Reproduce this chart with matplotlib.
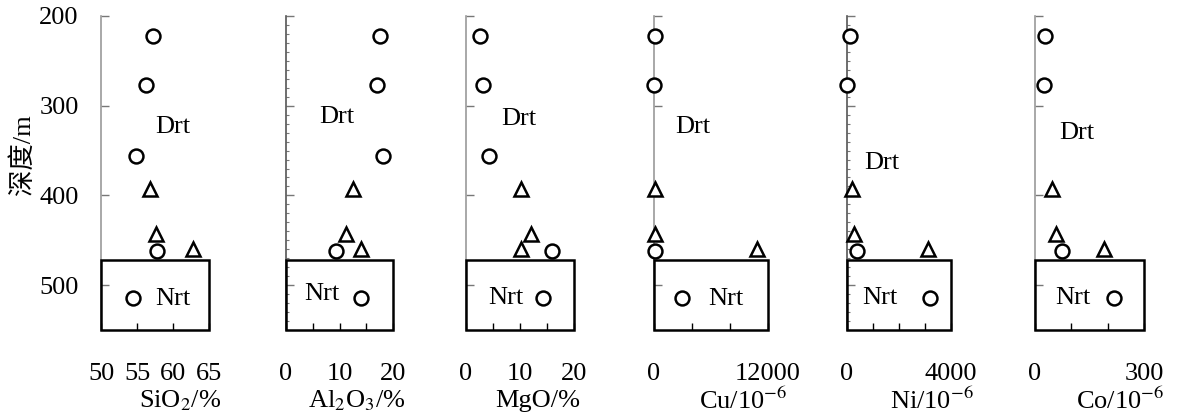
import matplotlib
matplotlib.use('Agg')
import matplotlib.pyplot as plt
import matplotlib.patches as patches
from matplotlib.ticker import MultipleLocator

plt.rcParams['font.family'] = ['Liberation Serif', 'Noto Sans CJK SC']
plt.rcParams['mathtext.fontset'] = 'stix'

# depths (m) shared by all panels
circle_depth = [222, 277, 356, 462, 514]
triangle_depth = [393, 443, 460]
box_top = 472
depth_lim = (550, 200)
depth_ticks = [200, 300, 400, 500]

names = ['SiO$_2$/%', 'Al$_2$O$_3$/%', 'MgO/%', 'Cu/10$^{-6}$', 'Ni/10$^{-6}$', 'Co/10$^{-6}$']
xlims = [(50, 65), (0, 20), (0, 20), (0, 12000), (0, 4000), (0, 300)]
xticks = [[50, 55, 60, 65], [0, 5, 10, 15, 20], [0, 5, 10, 15, 20],
          [0, 4000, 8000, 12000], [0, 1000, 2000, 3000, 4000], [0, 100, 200, 300]]
xticklabels = [['50', '55', '60', '65'], ['0', '', '10', '', '20'], ['0', '', '10', '', '20'],
               ['0', '', '', '12000'], ['0', '', '', '', '4000'], ['0', '', '', '300']]

circle_vals = [
    [57.2, 56.2, 54.9, 57.8, 54.4],
    [17.6, 17.1, 18.1, 9.3, 14.0],
    [2.6, 3.1, 4.3, 15.9, 14.3],
    [150, 0, 0, 150, 2900],
    [115, 0, 0, 370, 3190],
    [27, 26, 0, 75, 217],
]
# third circle (~356 m) is absent in Cu, Ni, Co panels
circle_mask = [
    [1, 1, 1, 1, 1],
    [1, 1, 1, 1, 1],
    [1, 1, 1, 1, 1],
    [1, 1, 0, 1, 1],
    [1, 1, 0, 1, 1],
    [1, 1, 0, 1, 1],
]
triangle_vals = [
    [56.8, 57.7, 62.8],
    [12.6, 11.3, 14.0],
    [10.1, 12.0, 10.1],
    [150, 150, 10870],
    [205, 280, 3100],
    [46, 58, 190],
]
drt_pos = [(60.0, 324), (9.5, 313), (9.8, 315), (4100, 324), (1335, 364), (115, 330)]
nrt_pos = [(60.0, 516), (6.7, 510), (7.4, 514), (7580, 516), (1270, 514), (104, 514)]

# panel placement in pixels
lefts = [101, 286, 466, 654, 847, 1035]
widths = [108, 107, 108, 114, 104, 109]
label_x = [180, 357, 538, 743, 932, 1120]
minor_panels = [1, 4]

W, H = 1187, 417
fig = plt.figure(figsize=(W / 100, H / 100), dpi=100)
top_px, bot_px = 16, 330

for i in range(6):
    ax = fig.add_axes([lefts[i] / W, 1 - bot_px / H, widths[i] / W, (bot_px - top_px) / H])
    ax.set_xlim(*xlims[i])
    ax.set_ylim(*depth_lim)
    for s in ['top', 'right', 'bottom']:
        ax.spines[s].set_visible(False)
    ax.spines['left'].set_color('#9a9a9a' if i not in minor_panels else '#555555')
    ax.spines['left'].set_linewidth(1.2)

    ax.set_yticks(depth_ticks)
    ax.tick_params(axis='y', direction='in', length=6, width=1, color='#777777',
                   labelsize=19, pad=16, labelleft=(i == 0))
    if i in minor_panels:
        ax.yaxis.set_minor_locator(MultipleLocator(10))
        ax.tick_params(axis='y', which='minor', direction='in', length=2, width=0.8, color='#777777')

    ax.set_xticks(xticks[i])
    ax.set_xticklabels(xticklabels[i])
    ax.tick_params(axis='x', direction='in', length=5, width=1, color='black',
                   labelsize=19, pad=24)

    x0, x1 = xlims[i]
    rect = patches.Rectangle((x0, box_top), x1 - x0, depth_lim[0] - box_top,
                             linewidth=1.8, edgecolor='black', facecolor='none',
                             zorder=3, clip_on=False)
    ax.add_patch(rect)

    cx = [v for v, m in zip(circle_vals[i], circle_mask[i]) if m]
    cy = [d for d, m in zip(circle_depth, circle_mask[i]) if m]
    ax.plot(cx, cy, 'o', ms=10, mfc='white', mec='black', mew=1.8, clip_on=False, zorder=4)
    ax.plot(triangle_vals[i], triangle_depth, '^', ms=10, mfc='white', mec='black', mew=1.8,
            clip_on=False, zorder=4)

    ax.text(drt_pos[i][0], drt_pos[i][1], 'Drt', fontsize=19, ha='center', va='center')
    ax.text(nrt_pos[i][0], nrt_pos[i][1], 'Nrt', fontsize=19, ha='center', va='center')

    fig.text(label_x[i] / W, 1 - 401 / H, names[i], fontsize=19, ha='center', va='center')

fig.text(23 / W, 1 - 155 / H, '深度/m', fontsize=19, rotation=90, ha='center', va='center')

fig.savefig('out.png', dpi=100)
